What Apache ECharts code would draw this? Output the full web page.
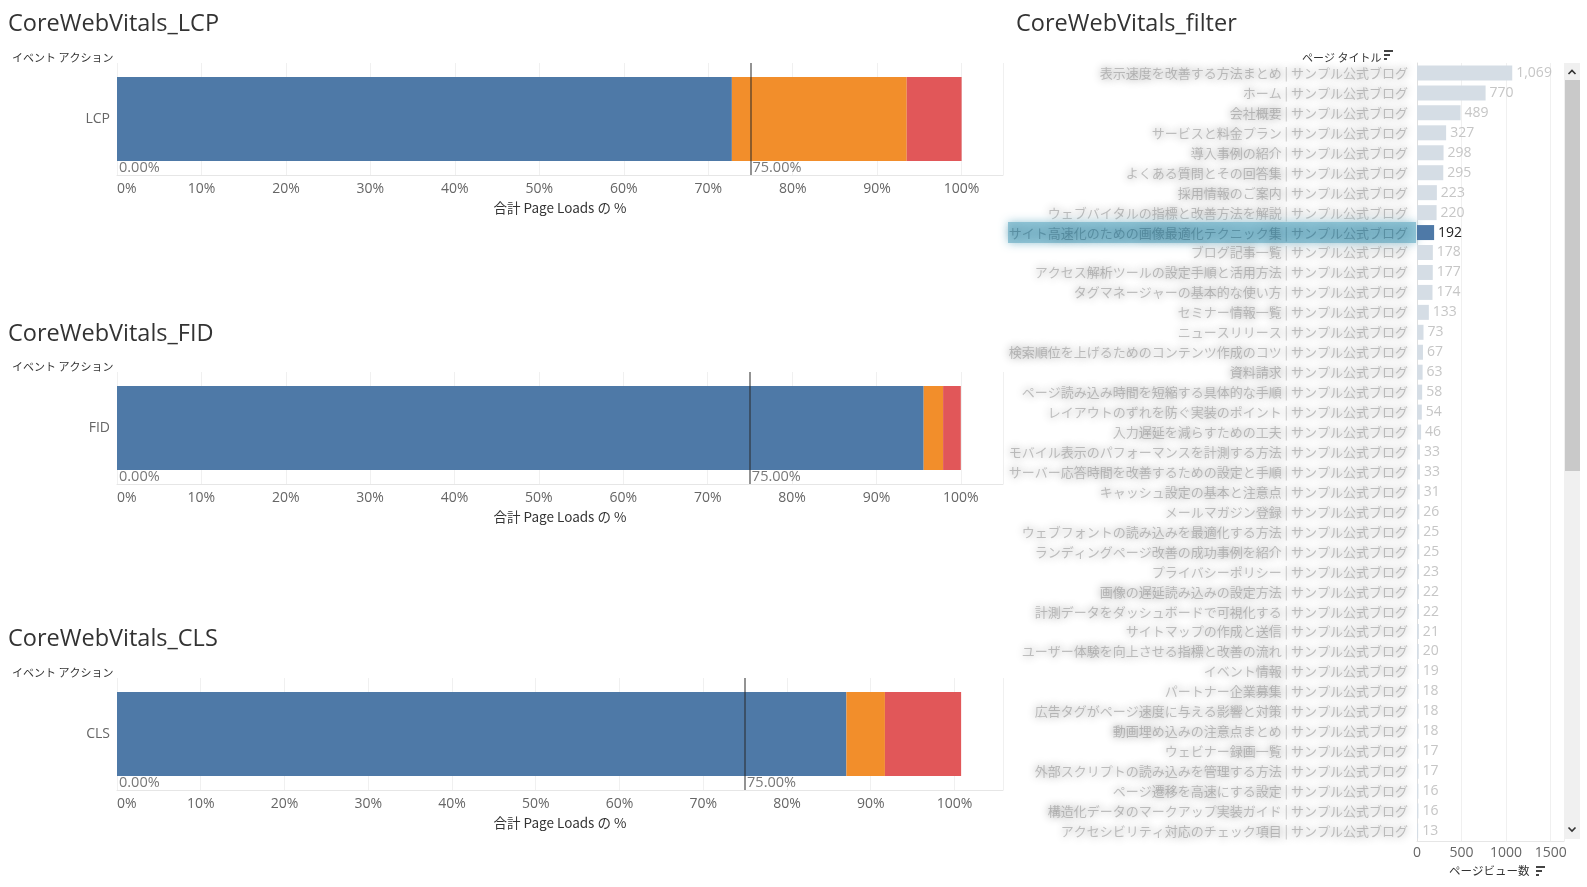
<!DOCTYPE html>
<html>
<head>
<meta charset="utf-8">
<script src="https://cdn.jsdelivr.net/npm/echarts@6/dist/echarts.min.js"></script>
<style>
html,body{margin:0;padding:0;background:#fff;}
#chart{width:1587px;height:887px;}
</style>
</head>
<body>
<div id="chart"></div>
<script>
// ---- data ----
const metrics = ['LCP', 'FID', 'CLS'];
const goodPct = [72.8, 95.6, 87.1];
const needsPct = [20.7, 2.3, 4.6];
const poorPct = [6.5, 2.1, 9.1];
const refLines = [0, 75];
const pctAxisMax = [104.9, 105, 105.8];
const pctTicks = 10;

const pageTitles = [
  '表示速度を改善する方法まとめ | サンプル公式ブログ',
  'ホーム | サンプル公式ブログ',
  '会社概要 | サンプル公式ブログ',
  'サービスと料金プラン | サンプル公式ブログ',
  '導入事例の紹介 | サンプル公式ブログ',
  'よくある質問とその回答集 | サンプル公式ブログ',
  '採用情報のご案内 | サンプル公式ブログ',
  'ウェブバイタルの指標と改善方法を解説 | サンプル公式ブログ',
  'サイト高速化のための画像最適化テクニック集 | サンプル公式ブログ',
  'ブログ記事一覧 | サンプル公式ブログ',
  'アクセス解析ツールの設定手順と活用方法 | サンプル公式ブログ',
  'タグマネージャーの基本的な使い方 | サンプル公式ブログ',
  'セミナー情報一覧 | サンプル公式ブログ',
  'ニュースリリース | サンプル公式ブログ',
  '検索順位を上げるためのコンテンツ作成のコツ | サンプル公式ブログ',
  '資料請求 | サンプル公式ブログ',
  'ページ読み込み時間を短縮する具体的な手順 | サンプル公式ブログ',
  'レイアウトのずれを防ぐ実装のポイント | サンプル公式ブログ',
  '入力遅延を減らすための工夫 | サンプル公式ブログ',
  'モバイル表示のパフォーマンスを計測する方法 | サンプル公式ブログ',
  'サーバー応答時間を改善するための設定と手順 | サンプル公式ブログ',
  'キャッシュ設定の基本と注意点 | サンプル公式ブログ',
  'メールマガジン登録 | サンプル公式ブログ',
  'ウェブフォントの読み込みを最適化する方法 | サンプル公式ブログ',
  'ランディングページ改善の成功事例を紹介 | サンプル公式ブログ',
  'プライバシーポリシー | サンプル公式ブログ',
  '画像の遅延読み込みの設定方法 | サンプル公式ブログ',
  '計測データをダッシュボードで可視化する | サンプル公式ブログ',
  'サイトマップの作成と送信 | サンプル公式ブログ',
  'ユーザー体験を向上させる指標と改善の流れ | サンプル公式ブログ',
  'イベント情報 | サンプル公式ブログ',
  'パートナー企業募集 | サンプル公式ブログ',
  '広告タグがページ速度に与える影響と対策 | サンプル公式ブログ',
  '動画埋め込みの注意点まとめ | サンプル公式ブログ',
  'ウェビナー録画一覧 | サンプル公式ブログ',
  '外部スクリプトの読み込みを管理する方法 | サンプル公式ブログ',
  'ページ遷移を高速にする設定 | サンプル公式ブログ',
  '構造化データのマークアップ実装ガイド | サンプル公式ブログ',
  'アクセシビリティ対応のチェック項目 | サンプル公式ブログ'
];
const pageViews = [1069, 770, 489, 327, 298, 295, 223, 220, 192, 178, 177, 174, 133, 73, 67, 63, 58, 54, 46, 33, 33, 31, 26, 25, 25, 23, 22, 22, 21, 20, 19, 18, 18, 18, 17, 17, 16, 16, 13];
const highlightIndex = 8;
const viewAxisMax = 1650;
const viewTicks = 500;

// ---- styles ----
const LATIN = "'Open Sans', 'Noto Sans CJK JP', sans-serif";
const CJK = "'Noto Sans CJK JP', 'Open Sans', sans-serif";
const C_GOOD = '#4e79a7', C_NEED = '#f28e2b', C_POOR = '#e15759';
const leftTops = [63, 372, 678];
const titleTops = [11, 321, 626];
const evTops = [50, 359, 665];

const chart = echarts.init(document.getElementById('chart'), null, {renderer: 'canvas'});

const titles = [];
const grids = [];
const xAxes = [];
const yAxes = [];
const series = [];

metrics.forEach((m, i) => {
  titles.push({text: 'CoreWebVitals_' + m, left: 8, top: titleTops[i], padding: 0,
    textStyle: {fontFamily: LATIN, fontSize: 23.5, fontWeight: 'normal', color: '#333', lineHeight: 26}});
  titles.push({text: 'イベント アクション', left: 12, top: evTops[i], padding: 0,
    textStyle: {fontFamily: CJK, fontSize: 11, fontWeight: 'normal', color: '#333', lineHeight: 16}});
  grids.push({left: 117, top: leftTops[i], width: 886, height: 112, containLabel: false, outerBoundsMode: 'none'});
  xAxes.push({
    type: 'value', gridIndex: i, min: 0, max: pctAxisMax[i], interval: pctTicks,
    axisLine: {show: true, lineStyle: {color: '#e6e6e6', width: 1}},
    axisTick: {show: false},
    splitLine: {show: true, lineStyle: {color: '#f0f0f0', width: 1}},
    axisLabel: {formatter: '{value}%', color: '#666', fontSize: 14, fontFamily: LATIN, margin: 7,
      showMaxLabel: false, alignMinLabel: 'left'},
    name: '合計 Page Loads の %', nameLocation: 'middle', nameGap: 26,
    nameTextStyle: {color: '#333', fontSize: 13.5, fontFamily: CJK}
  });
  yAxes.push({
    type: 'category', gridIndex: i, data: [m],
    axisLine: {show: false}, axisTick: {show: false},
    axisLabel: {color: '#666', fontSize: 14, fontFamily: LATIN, margin: 7}
  });
  const parts = [[goodPct, C_GOOD], [needsPct, C_NEED], [poorPct, C_POOR]];
  parts.forEach(([arr, col], k) => {
    const s = {
      type: 'bar', xAxisIndex: i, yAxisIndex: i, stack: 'pct' + i,
      barWidth: '75%', data: [arr[i]], itemStyle: {color: col}, silent: true
    };
    if (k === 2) {
      s.markLine = {
        symbol: 'none', silent: true, z: 10,
        lineStyle: {color: 'rgba(40,40,40,0.5)', width: 2, type: 'solid'},
        label: {show: false},
        data: refLines.filter(v => v > 0).map(v => ({xAxis: v}))
      };
    }
    series.push(s);
  });
  series.push({
    type: 'scatter', xAxisIndex: i, yAxisIndex: i, symbolSize: 0, silent: true, z: 12,
    data: refLines.map(v => [v, m]),
    label: {show: true, position: 'right', distance: 2, offset: [0, 49],
      formatter: p => p.value[0].toFixed(2) + '%', color: '#555', fontSize: 14.5, fontFamily: LATIN}
  });
});

// right chart
titles.push({text: 'CoreWebVitals_filter', left: 1016, top: 11, padding: 0,
  textStyle: {fontFamily: LATIN, fontSize: 23.5, fontWeight: 'normal', color: '#333', lineHeight: 26}});
titles.push({text: 'ページ タイトル', left: 1302, top: 50, padding: 0,
  textStyle: {fontFamily: CJK, fontSize: 11, fontWeight: 'normal', color: '#333', lineHeight: 16}});
titles.push({text: 'ページビュー数', left: 1449, top: 863, padding: 0,
  textStyle: {fontFamily: CJK, fontSize: 11.5, fontWeight: 'normal', color: '#333', lineHeight: 16}});

grids.push({left: 1417, top: 63, width: 147, height: 778, containLabel: false, outerBoundsMode: 'none'});
xAxes.push({
  type: 'value', gridIndex: 3, min: 0, max: viewAxisMax, interval: viewTicks,
  axisLine: {show: true, lineStyle: {color: '#e6e6e6'}},
  axisTick: {show: false},
  splitLine: {show: true, lineStyle: {color: '#f0f0f0'}},
  axisLabel: {color: '#666', fontSize: 14, fontFamily: LATIN, margin: 5, showMaxLabel: false,
    formatter: v => String(v)}
});
yAxes.push({
  type: 'category', gridIndex: 3, data: pageTitles, inverse: true,
  axisLine: {show: true, lineStyle: {color: '#dedede'}},
  axisTick: {show: false},
  axisLabel: {
    interval: 0, margin: 1, fontSize: 13, fontFamily: CJK,
    formatter: (v, idx) => idx === highlightIndex ? '{hl|' + v + '}' : '{n|' + v + '}',
    rich: {
      n: {
        fontSize: 13, fontFamily: CJK, color: 'rgba(125,125,125,0.45)',
        textShadowColor: 'rgba(0,0,0,1)', textShadowBlur: 8,
        padding: [0, 8, 0, 0]
      },
      hl: {
        fontSize: 13, fontFamily: CJK, color: 'rgba(40,90,110,0.4)',
        textShadowColor: 'rgba(0,40,60,1)', textShadowBlur: 8,
        backgroundColor: 'rgba(125,185,205,0.8)', width: 398, align: 'right',
        padding: [4, 8, 4, 2], shadowBlur: 10, shadowColor: 'rgba(125,185,205,1)'
      }
    }
  }
});
series.push({
  type: 'bar', xAxisIndex: 3, yAxisIndex: 3, barWidth: 15, silent: true,
  data: pageViews.map((v, idx) => ({
    value: v,
    itemStyle: {color: idx === highlightIndex ? C_GOOD : '#d5dde5'},
    label: {color: idx === highlightIndex ? '#222' : '#c6c6c6'}
  })),
  label: {show: true, position: 'right', distance: 4, fontSize: 14, fontFamily: LATIN,
    formatter: p => p.value.toLocaleString('en-US')}
});

function sortIcon(x, y) {
  return {
    type: 'group', left: x, top: y, silent: true,
    children: [
      {type: 'rect', shape: {x: 0, y: 0, width: 9, height: 2}, style: {fill: '#444'}},
      {type: 'rect', shape: {x: 0, y: 4, width: 6, height: 2}, style: {fill: '#444'}},
      {type: 'rect', shape: {x: 0, y: 8, width: 3, height: 2}, style: {fill: '#444'}}
    ]
  };
}

const graphic = [
  sortIcon(1384, 50),
  sortIcon(1536, 866),
  {type: 'rect', silent: true, shape: {x: 1564, y: 63, width: 16, height: 776}, style: {fill: '#f0f0f0'}},
  {type: 'rect', silent: true, shape: {x: 1564, y: 80, width: 16, height: 391}, style: {fill: '#c9c9c9'}},
  {type: 'polyline', silent: true, shape: {points: [[1568.5, 74], [1572, 70.5], [1575.5, 74]]},
    style: {stroke: '#333', lineWidth: 1.6, fill: null}},
  {type: 'polyline', silent: true, shape: {points: [[1568.5, 827.5], [1572, 831], [1575.5, 827.5]]},
    style: {stroke: '#333', lineWidth: 1.6, fill: null}}
];

chart.setOption({
  animation: false,
  backgroundColor: '#fff',
  title: titles,
  grid: grids,
  xAxis: xAxes,
  yAxis: yAxes,
  series: series,
  graphic: graphic
});
</script>
</body>
</html>
